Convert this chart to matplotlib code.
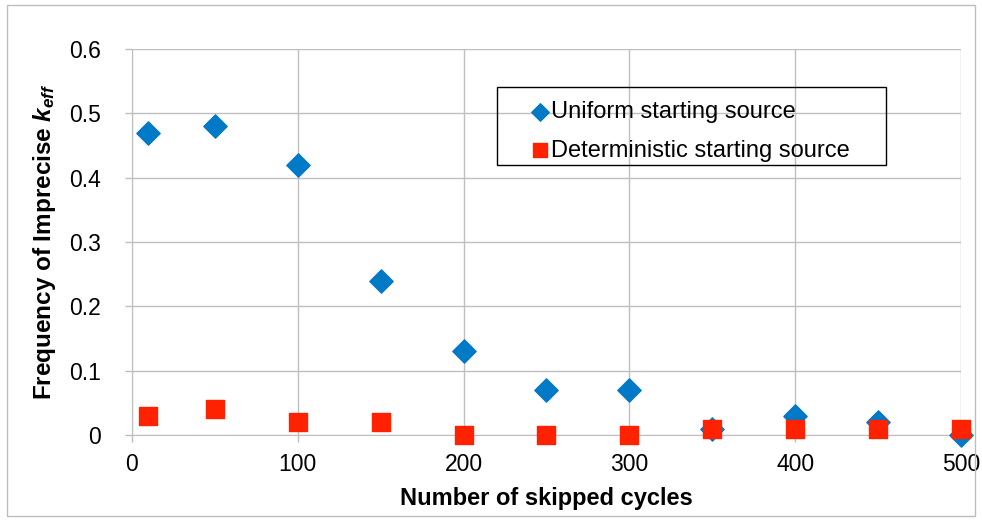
import matplotlib
matplotlib.use("Agg")
import matplotlib.pyplot as plt
from matplotlib.patches import Rectangle

plt.rcParams['font.family'] = ['Liberation Sans', 'DejaVu Sans']
plt.rcParams['mathtext.fontset'] = 'custom'
plt.rcParams['mathtext.it'] = 'Liberation Sans:bold:italic'
plt.rcParams['mathtext.rm'] = 'Liberation Sans:bold'

# 数据
cycles = [10, 50, 100, 150, 200, 250, 300, 350, 400, 450, 500]
uniform = [0.47, 0.48, 0.42, 0.24, 0.13, 0.07, 0.07, 0.01, 0.03, 0.02, 0.0]
deterministic = [0.03, 0.04, 0.02, 0.02, 0.0, 0.0, 0.0, 0.01, 0.01, 0.01, 0.01]

fig = plt.figure(figsize=(9.82, 5.21), dpi=100)
ax = fig.add_axes([0.134, 0.165, 0.845, 0.741])

# 外框
fig.patches.append(Rectangle((0.007, 0.01), 0.986, 0.98, transform=fig.transFigure,
                             fill=False, edgecolor='#bdbdbd', linewidth=1))

ax.scatter(cycles, uniform, marker='D', s=140, color='#0079c6', zorder=3,
           clip_on=False, label='Uniform starting source')
ax.scatter(cycles, deterministic, marker='s', s=165, color='#ff2200', zorder=4,
           clip_on=False, label='Deterministic starting source')

ax.set_xlim(0, 500)
ax.set_ylim(0, 0.6)
ax.set_xticks(range(0, 501, 100))
ax.set_yticks([0, 0.1, 0.2, 0.3, 0.4, 0.5, 0.6])
ax.set_yticklabels(['0', '0.1', '0.2', '0.3', '0.4', '0.5', '0.6'])
ax.grid(True, color='#bfbfbf', linewidth=1)
ax.set_axisbelow(True)
for s in ['top', 'right']:
    ax.spines[s].set_visible(False)
for s in ['left', 'bottom']:
    ax.spines[s].set_color('#bfbfbf')
ax.tick_params(axis='both', colors='#bfbfbf', labelcolor='black', labelsize=16.5,
               length=5, width=1)
ax.tick_params(axis='y', pad=17)
ax.tick_params(axis='x', pad=8)

ax.set_xlabel('Number of skipped cycles', fontsize=17, fontweight='bold', labelpad=8)
ax.set_ylabel('Frequency of Imprecise $k_{eff}$', fontsize=17.5,
              fontweight='bold', labelpad=8)

# 图例（边框单独画）
leg = ax.legend(loc='upper left', bbox_to_anchor=(0.481, 0.865), borderaxespad=0,
                fontsize=17, frameon=False, handletextpad=0.08, handlelength=0.76,
                borderpad=0, labelspacing=0.7, scatterpoints=1, markerscale=0.75)
ax.add_patch(Rectangle((0.4403, 0.6995), 0.4692, 0.2021, transform=ax.transAxes,
                       fill=False, edgecolor='black', linewidth=1, zorder=5))

plt.savefig('out.png', dpi=100)
